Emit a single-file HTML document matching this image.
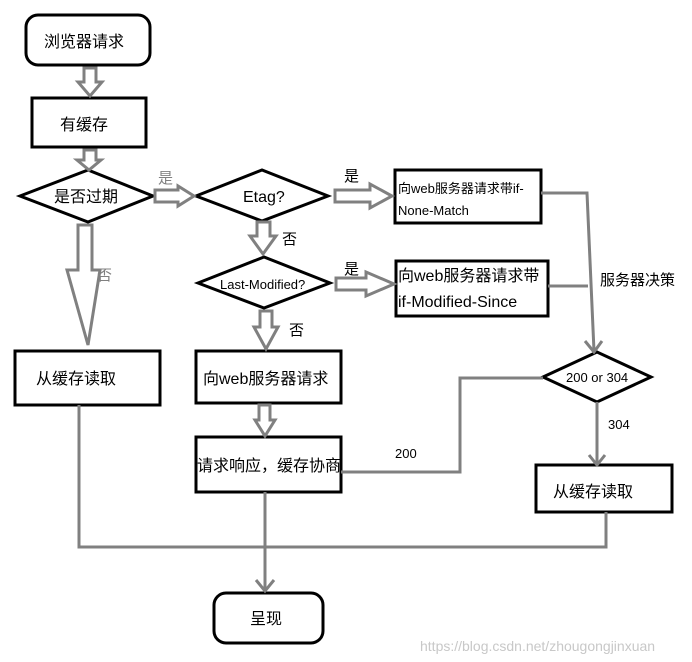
<!DOCTYPE html>
<html><head><meta charset="utf-8"><style>
html,body{margin:0;padding:0;background:#fff;}
svg{display:block;}
text{font-family:"Liberation Sans","Noto Sans CJK SC",sans-serif;fill:#000;}
</style></head><body>
<svg width="692" height="662" viewBox="0 0 692 662" xmlns="http://www.w3.org/2000/svg">
<g fill="#fff" stroke="#000" stroke-width="3">
<rect x="26" y="15" width="124" height="50" rx="12"/>
<rect x="32" y="98" width="114" height="49"/>
<polygon points="20,196 88,170 153,196 88,222"/>
<polygon points="196,196 262,170 328,196 262,221"/>
<polygon points="198,283 264,257 330,283 264,308"/>
<rect x="395" y="170" width="146" height="53"/>
<rect x="396" y="261" width="152" height="55"/>
<polygon points="543,377 597,352 651,377 597,402"/>
<rect x="15" y="351" width="145" height="54"/>
<rect x="196" y="351" width="145" height="52"/>
<rect x="196" y="437" width="145" height="55"/>
<rect x="536" y="465" width="136" height="47"/>
<rect x="214" y="593" width="109" height="50" rx="12"/>
</g>
<g fill="#fff" stroke="#808080" stroke-width="3" stroke-linejoin="miter">
<!-- hollow down arrows -->
<polygon points="84,68 96,68 96,82 102,82 90,96 78,82 84,82"/>
<polygon points="84,150 96,150 96,160 101,160 89,170 77,160 84,160"/>
<polygon points="78,225 92,225 92,270 100,270 88,345 67,270 78,270"/>
<polygon points="257,222 270,222 270,236 276,236 263,254 250,236 257,236"/>
<polygon points="260,311 272,311 272,327 278,327 266,349 254,327 260,327"/>
<polygon points="259,405 270,405 270,420 275,420 265,436 255,420 259,420"/>
<!-- hollow right arrows -->
<polygon points="155,190 178,190 178,186 194,196 178,206 178,202 155,202"/>
<polygon points="335,190 370,190 370,184 392,196 370,208 370,202 335,202"/>
<polygon points="336,278 366,278 366,272 394,284 366,296 366,290 336,290"/>
</g>
<g fill="none" stroke="#808080" stroke-width="3">
<polyline points="541,193 587,193 594,351"/>
<polyline points="585,341 594,352 602,341"/>
<line x1="548" y1="286" x2="588" y2="286"/>
<polyline points="543,378 460,378 460,472 341,472"/>
<line x1="597" y1="402" x2="597" y2="464"/>
<polyline points="589,455 597,465 605,455"/>
<polyline points="79,405 79,547 606,547 606,512"/>
<line x1="265" y1="492" x2="265" y2="590"/>
<polyline points="256,580 265,591 274,580"/>
</g>
<g font-size="16">
<text x="44" y="47">浏览器请求</text>
<text x="60" y="130">有缓存</text>
<text x="54" y="202">是否过期</text>
<text x="243" y="202">Etag?</text>
<text x="220" y="289" font-size="13">Last-Modified?</text>
<text x="36" y="384">从缓存读取</text>
<text x="203" y="384">向web服务器请求</text>
<text x="197" y="471">请求响应，缓存协商</text>
<text x="553" y="497">从缓存读取</text>
<text x="250" y="624">呈现</text>
<text x="398" y="281">向web服务器请求带</text>
<text x="398" y="307">if-Modified-Since</text>
<text x="600" y="285" font-size="15">服务器决策</text>
</g>
<g font-size="13">
<text x="398" y="193">向web服务器请求带if-</text>
<text x="398" y="215">None-Match</text>
<text x="566" y="382">200 or 304</text>
<text x="608" y="429">304</text>
<text x="395" y="458">200</text>
</g>
<g font-size="15">
<text x="158" y="183" fill="#808080" style="fill:#808080">是</text>
<text x="97" y="280" style="fill:#808080">否</text>
<text x="344" y="181">是</text>
<text x="282" y="244">否</text>
<text x="344" y="274">是</text>
<text x="289" y="335">否</text>
</g>
<text x="420" y="651" font-size="14" style="fill:#c8c8c8">https://blog.csdn.net/zhougongjinxuan</text>
</svg>
</body></html>
